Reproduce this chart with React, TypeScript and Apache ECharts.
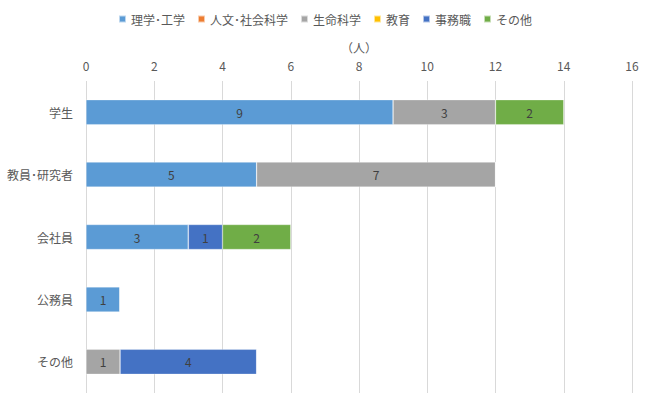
import React, { useEffect, useRef } from "react";
import * as echarts from "echarts";

const categories = ["学生", "教員･研究者", "会社員", "公務員", "その他"];
const seriesNames = ["理学･工学", "人文･社会科学", "生命科学", "教育", "事務職", "その他"];
const rikouValues = [9, 5, 3, 1, 0];
const jinbunValues = [0, 0, 0, 0, 0];
const seimeiValues = [3, 7, 0, 0, 1];
const kyouikuValues = [0, 0, 0, 0, 0];
const jimuValues = [0, 0, 1, 0, 4];
const sonotaValues = [2, 0, 2, 0, 0];
const xTicks = [0, 2, 4, 6, 8, 10, 12, 14, 16];
const colors = ["#5B9BD5", "#ED7D31", "#A5A5A5", "#FFC000", "#4472C4", "#70AD47"];

const FONT = "'Noto Sans CJK JP', 'Noto Sans', sans-serif";

export default function App() {
  const ref = useRef<HTMLDivElement>(null);
  useEffect(() => {
    document.body.style.margin = "0";
    if (!ref.current) return;
    const chart = echarts.init(ref.current, null, { renderer: "svg" });
    const values = [rikouValues, jinbunValues, seimeiValues, kyouikuValues, jimuValues, sonotaValues];
    chart.setOption({
      animation: false,
      textStyle: { fontFamily: FONT },
      legend: {
        top: 8,
        left: "center",
        itemWidth: 7,
        itemHeight: 7,
        itemGap: 12,
        icon: "rect",
        textStyle: { color: "#595959", fontSize: 12, fontFamily: FONT },
        data: seriesNames,
      },
      grid: { left: 86, right: 18, top: 81, bottom: 12, containLabel: false },
      xAxis: {
        type: "value",
        position: "top",
        min: xTicks[0],
        max: xTicks[xTicks.length - 1],
        interval: 2,
        name: "（人）",
        nameLocation: "middle",
        nameGap: 28,
        nameTextStyle: { color: "#595959", fontSize: 12, fontFamily: FONT },
        axisLine: { show: false },
        axisTick: { show: false },
        axisLabel: { color: "#595959", fontSize: 12, margin: 10, fontFamily: FONT },
        splitLine: { show: true, lineStyle: { color: "#D9D9D9", width: 1 } },
      },
      yAxis: {
        type: "category",
        inverse: true,
        data: categories,
        axisLine: { show: false },
        axisTick: { show: false },
        axisLabel: { color: "#595959", fontSize: 12, margin: 13, fontFamily: FONT },
      },
      series: seriesNames.map((name, i) => ({
        name,
        type: "bar",
        stack: "total",
        barWidth: 25,
        itemStyle: { color: colors[i], borderColor: "rgba(255,255,255,0.6)", borderWidth: 0.5 },
        label: {
          show: true,
          position: "inside",
          color: "#404040",
          fontSize: 12,
          fontFamily: FONT,
          formatter: (p: any) => (p.value ? String(p.value) : ""),
        },
        data: values[i],
      })),
    });
    return () => chart.dispose();
  }, []);
  return <div ref={ref} style={{ width: 650, height: 405 }} />;
}
